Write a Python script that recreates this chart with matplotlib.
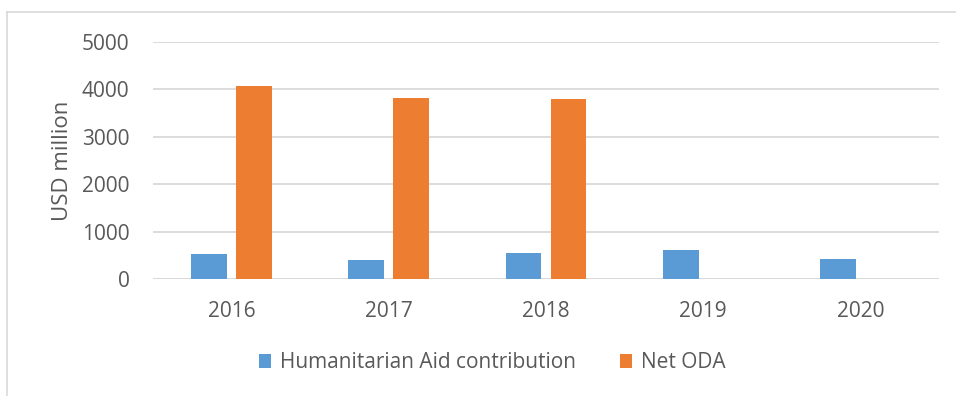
import numpy as np
import matplotlib.pyplot as plt
from matplotlib.lines import Line2D

plt.rcParams['font.family'] = ['Open Sans', 'DejaVu Sans']

years = ['2016', '2017', '2018', '2019', '2020']
humanitarian = [521, 394, 542, 612, 415]
net_oda = [4072, 3812, 3797, 0, 0]

blue = '#5b9bd5'
orange = '#ed7d31'
text_col = '#595959'
grid_col = '#d9d9d9'
fs = 15

fig = plt.figure(figsize=(9.56, 3.96), dpi=100)
ax = fig.add_axes([153 / 956, 1 - 279 / 396, (939 - 153) / 956, (279 - 41.7) / 396])

x = np.arange(len(years))
w = 0.228
off = 0.143
ax.bar(x - off, humanitarian, w, color=blue, label='Humanitarian Aid contribution', zorder=3)
ax.bar(x + off, net_oda, w, color=orange, label='Net ODA', zorder=3)

ax.set_xlim(-0.5, len(years) - 0.5)
ax.set_ylim(0, 5000)
ax.set_yticks(range(0, 5001, 1000))
ax.set_xticks(x)
ax.set_xticklabels(years)
ax.yaxis.grid(True, color=grid_col, linewidth=1.3, zorder=0)
for s in ax.spines.values():
    s.set_visible(False)
ax.axhline(0, color=grid_col, linewidth=1.3, zorder=2)
ax.tick_params(axis='both', length=0, colors=text_col, labelsize=fs)
ax.tick_params(axis='y', pad=17)
ax.tick_params(axis='x', pad=16)
ax.set_ylabel('USD million', color=text_col, fontsize=16, labelpad=6)

leg = fig.legend(loc='center', bbox_to_anchor=(492 / 956, 1 - 363 / 396), ncol=2,
                 frameon=False, fontsize=fs, handlelength=0.62, handleheight=0.62,
                 handletextpad=0.4, columnspacing=2.1)
for t in leg.get_texts():
    t.set_color(text_col)

# chart area border (partially cropped in the original)
fig.add_artist(Line2D([7 / 956, 7 / 956], [0, 1 - 12 / 396], color=grid_col, linewidth=1.2))
fig.add_artist(Line2D([7 / 956, 1], [1 - 12 / 396, 1 - 12 / 396], color=grid_col, linewidth=1.2))

fig.savefig('out.png', dpi=100)
